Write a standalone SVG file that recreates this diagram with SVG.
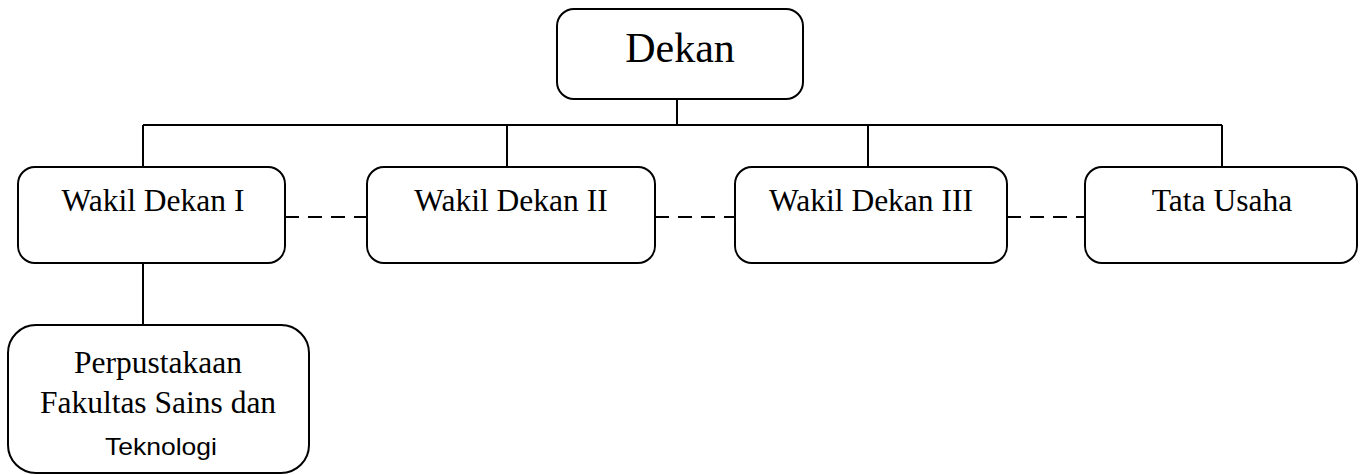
<svg xmlns="http://www.w3.org/2000/svg" width="1362" height="475" viewBox="0 0 1362 475">
<style>
.box{fill:#fff;stroke:#000;stroke-width:2}
.t{font-family:"Liberation Serif","Times New Roman",serif;fill:#000;text-anchor:middle}
.s{font-family:"Liberation Sans",Arial,sans-serif;fill:#000;text-anchor:middle}
.ln{fill:none;stroke:#000;stroke-width:2}
.dash{fill:none;stroke:#000;stroke-width:2;stroke-dasharray:14 9}
</style>
<rect width="1362" height="475" fill="#fff"/>
<g id="connectors">
<path class="ln" d="M677 99V125M143 125H1222M143 125V167M507 125V167M868 125V167M1222 125V167M143 263V325"/>
<path class="dash" d="M285 217H367"/>
<path class="dash" d="M655 217H735"/>
<path class="dash" d="M1007 217H1085"/>
</g>
<g id="dekan">
<rect class="box" x="557" y="9" width="246" height="90" rx="17"/>
<text class="t" x="680" y="62" font-size="42">Dekan</text>
</g>
<g id="wakil1">
<rect class="box" x="18" y="167" width="267" height="96" rx="17"/>
<text class="t" x="153" y="211" font-size="31.5">Wakil Dekan I</text>
</g>
<g id="wakil2">
<rect class="box" x="367" y="167" width="288" height="96" rx="17"/>
<text class="t" x="511" y="211" font-size="31.5">Wakil Dekan II</text>
</g>
<g id="wakil3">
<rect class="box" x="735" y="167" width="272" height="96" rx="17"/>
<text class="t" x="871" y="211" font-size="31.5">Wakil Dekan III</text>
</g>
<g id="tatausaha">
<rect class="box" x="1085" y="167" width="272" height="96" rx="17"/>
<text class="t" x="1222" y="211" font-size="31.5">Tata Usaha</text>
</g>
<g id="perpustakaan">
<rect class="box" x="8" y="325" width="301" height="148" rx="28"/>
<text class="t" x="158" y="373" font-size="31.5">Perpustakaan</text>
<text class="t" x="158" y="413" font-size="31.5">Fakultas Sains dan</text>
<text class="s" x="161" y="455" font-size="24" textLength="112" lengthAdjust="spacingAndGlyphs">Teknologi</text>
</g>
</svg>
